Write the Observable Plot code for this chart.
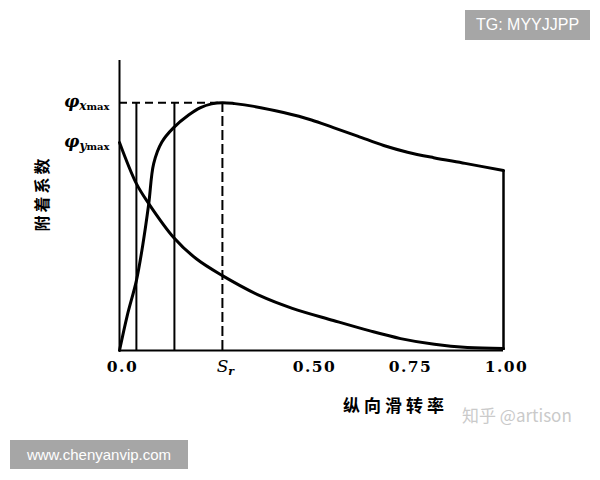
<!DOCTYPE html>
<html><head><meta charset="utf-8">
<script src="https://cdn.jsdelivr.net/npm/d3@7"></script>
<script src="https://cdn.jsdelivr.net/npm/@observablehq/plot@0.6"></script>
<style>
body{margin:0;background:#fff;}
#wrap{position:relative;width:600px;height:480px;background:#fff;}
.wm{position:absolute;background:#a6a6a6;color:#fff;font-family:"Liberation Sans",Arial,sans-serif;display:flex;align-items:center;justify-content:center;}
.zh{position:absolute;color:#cacaca;font-family:"Noto Sans CJK SC","Liberation Sans",sans-serif;font-size:17px;}
</style></head><body><div id="wrap"></div>
<script>
// Longitudinal adhesion coefficient φx vs slip ratio
const phiXSlip = [0, 0.02, 0.044, 0.06, 0.076, 0.089, 0.11, 0.141, 0.18, 0.211, 0.24, 0.268, 0.3, 0.35, 0.427, 0.5, 0.557, 0.62, 0.688, 0.75, 0.818, 0.9, 1.0];
const phiXValue = [0, 0.14, 0.282, 0.42, 0.59, 0.754, 0.84, 0.899, 0.95, 0.98, 0.995, 1.0, 0.996, 0.985, 0.96, 0.93, 0.899, 0.865, 0.827, 0.80, 0.778, 0.755, 0.726];
// Lateral adhesion coefficient φy vs slip ratio
const phiYSlip = [0, 0.044, 0.076, 0.141, 0.2, 0.268, 0.367, 0.45, 0.557, 0.65, 0.732, 0.82, 0.906, 1.0];
const phiYValue = [0.839, 0.673, 0.593, 0.456, 0.37, 0.302, 0.22, 0.17, 0.121, 0.08, 0.048, 0.025, 0.012, 0.008];
// Reference slips
const solidSlips = [0.044, 0.143];
const srSlip = 0.268;
const phiXMax = 1.0;
const phiYMax = 0.839;
// Ticks
const xTicks = [0, srSlip, 0.5, 0.75, 1.0];
const xTickLabels = ["0.0", "Sr", "0.50", "0.75", "1.00"];
const yTicks = [phiXMax, phiYMax];
const yTickSubs = ["x max", "y max"];
const xTitle = "纵向滑转率";
const yTitle = "附着系数";

const phiX = phiXSlip.map((s, i) => ({s, v: phiXValue[i]}));
const phiY = phiYSlip.map((s, i) => ({s, v: phiYValue[i]}));

const serif = "'DejaVu Serif', 'Liberation Serif', serif";
const cjk = "'Noto Sans CJK SC', sans-serif";

const plot = Plot.plot({
  width: 600, height: 480,
  marginLeft: 119, marginRight: 97, marginTop: 60, marginBottom: 130,
  x: {domain: [0, 1]},
  y: {domain: [0, 1.17]},
  style: {background: "#fff", color: "#000"},
  marks: [
    Plot.ruleX([0], {y1: 0, y2: 1.17, strokeWidth: 2}),
    Plot.ruleY([0], {x1: 0, x2: 1, strokeWidth: 2}),
    Plot.ruleX([1], {y1: 0, y2: phiXValue[phiXValue.length - 1], strokeWidth: 2.5}),
    Plot.ruleX(solidSlips, {y1: 0, y2: phiXMax, strokeWidth: 2}),
    Plot.ruleX([srSlip], {y1: 0, y2: phiXMax, strokeWidth: 2, strokeDasharray: "10,4"}),
    Plot.ruleY([phiXMax], {x1: 0, x2: srSlip, strokeWidth: 2, strokeDasharray: "8,5"}),
    Plot.line(phiX, {x: "s", y: "v", curve: "catmull-rom", strokeWidth: 3}),
    Plot.line(phiY, {x: "s", y: "v", curve: "catmull-rom", strokeWidth: 3}),
    Plot.axisX(xTicks, {tickSize: 0, tickPadding: 10, tickFormat: d => xTickLabels[xTicks.indexOf(d)], label: null,
      fontSize: 15.5, fontWeight: "bold", fontFamily: serif, dx: 3}),
    Plot.axisY(yTicks, {tickSize: 0, tickPadding: 10, tickFormat: d => "φ|" + yTickSubs[yTicks.indexOf(d)], label: null,
      fontSize: 15, fontWeight: "bold", fontFamily: serif}),
    Plot.text([xTitle], {frameAnchor: "bottom", dx: 84, dy: 61, fontSize: 17, fontWeight: "bold", fontFamily: cjk}),
    Plot.text([yTitle], {frameAnchor: "left", textAnchor: "middle", lineAnchor: "middle", rotate: -90, dx: -77, dy: -12,
      fontSize: 16, fontWeight: "bold", fontFamily: cjk})
  ]
});

const svg = d3.select(plot);
// letter spacing for titles
svg.selectAll("text").each(function() {
  const t = d3.select(this);
  const s = t.text();
  if (s === xTitle) t.style("letter-spacing", "4px");
  if (s === yTitle) t.style("letter-spacing", "3px");
  if (/^[0-9.]+$/.test(s)) t.style("letter-spacing", "1.5px");
});
// Sr subscript
svg.selectAll("text").filter(function() { return d3.select(this).text() === "Sr"; }).each(function() {
  const t = d3.select(this);
  t.text("");
  t.append("tspan").text("S").attr("font-style", "italic").attr("font-weight", "normal").attr("font-size", 17);
  t.append("tspan").text("r").attr("font-style", "italic").attr("font-size", 11).attr("dy", 3);
});
// φ subscripts
svg.selectAll("text").filter(function() { return d3.select(this).text().startsWith("φ|"); }).each(function() {
  const t = d3.select(this);
  const sub = t.text().split("|")[1];
  const parts = sub.split(" ");
  t.text("");
  t.append("tspan").text("φ").attr("font-style", "italic").attr("font-size", 17);
  t.append("tspan").text(parts[0]).attr("font-style", "italic").attr("font-size", 12).attr("dy", 3);
  t.append("tspan").text(parts[1]).attr("font-size", 10);
});

const wrap = document.getElementById("wrap");
wrap.appendChild(plot);
plot.style.position = "absolute";
plot.style.left = "0px";
plot.style.top = "0px";

const tg = document.createElement("div");
tg.className = "wm";
tg.style.cssText += "left:465px;top:10px;width:125px;height:30px;font-size:16px;";
tg.textContent = "TG: MYYJJPP";
wrap.appendChild(tg);

const www = document.createElement("div");
www.className = "wm";
www.style.cssText += "left:10px;top:440px;width:178px;height:29px;font-size:15px;";
www.textContent = "www.chenyanvip.com";
wrap.appendChild(www);

const zh = document.createElement("div");
zh.className = "zh";
zh.style.cssText += "left:462px;top:402px;";
zh.textContent = "知乎 @artison";
wrap.appendChild(zh);
</script>
</body></html>
